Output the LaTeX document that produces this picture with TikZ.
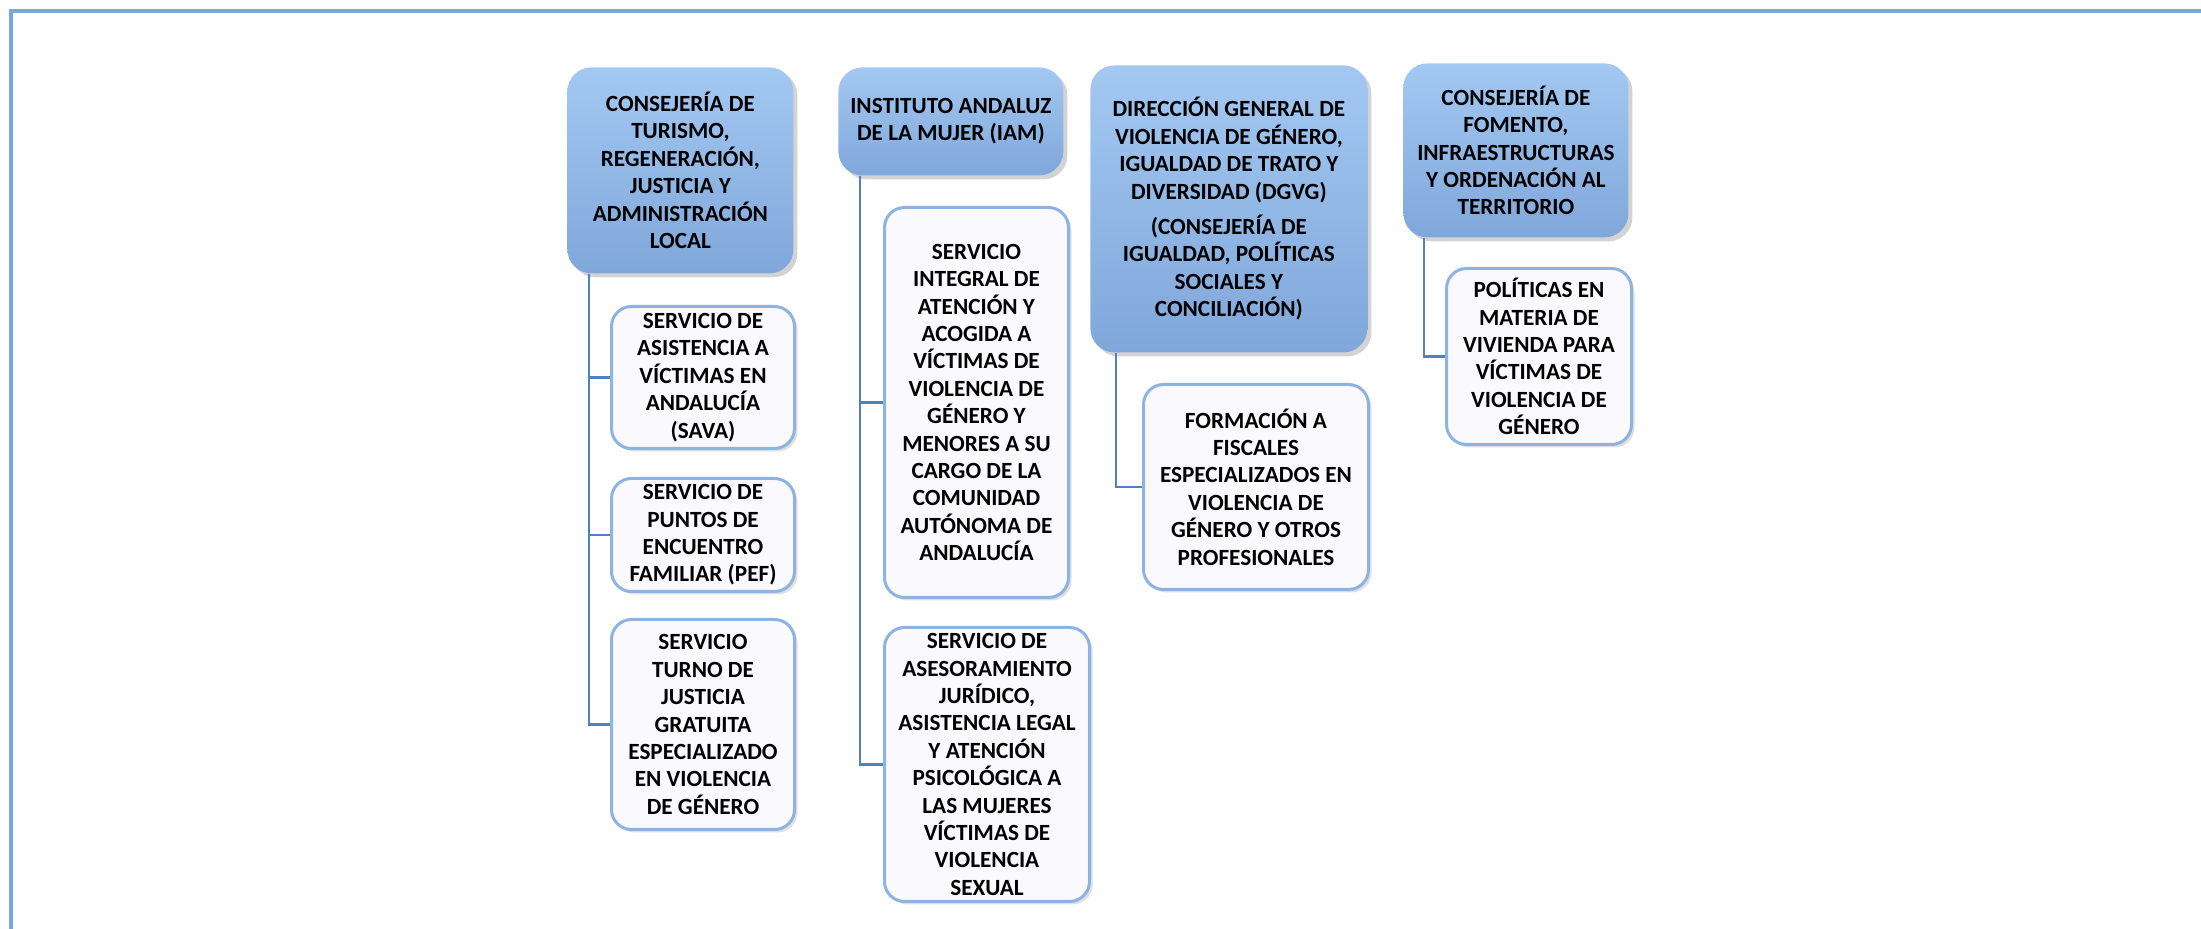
\documentclass[tikz,border=0pt]{standalone}
\usepackage{fontspec}
\setmainfont{Carlito}
\usetikzlibrary{shadows,calc}
\definecolor{framecol}{RGB}{118,168,222}
\definecolor{conncol}{RGB}{79,129,189}
\definecolor{boxedge}{RGB}{141,179,226}
\definecolor{ptop}{RGB}{163,200,242}
\definecolor{pbot}{RGB}{128,167,218}
\definecolor{cfill}{RGB}{250,250,254}
\tikzset{
  parentbox/.style={rectangle, rounded corners=12pt, top color=ptop, bottom color=pbot,
    draw=none, align=center, inner sep=3pt, anchor=north west,
    drop shadow={opacity=0.35, shadow xshift=2pt, shadow yshift=-2pt},
    font=\bfseries\fontsize{11.6pt}{13.7pt}\selectfont},
  childbox/.style={rectangle, rounded corners=10pt, fill=cfill, draw=boxedge, line width=1.5pt,
    align=center, inner sep=3pt, anchor=north west,
    drop shadow={opacity=0.25, shadow xshift=1.5pt, shadow yshift=-1.5pt},
    font=\bfseries\fontsize{11.6pt}{13.7pt}\selectfont},
  conn/.style={draw=conncol, line width=1.2pt},
  framestyle/.style={draw=framecol, line width=1.6pt}
}
\begin{document}
\begin{tikzpicture}[x=0.5pt,y=-0.5pt]
\useasboundingbox (0,0) rectangle (2201,929);
\draw[framestyle] (2201,11) -- (11,11) -- (11,929);

% Column 1
\node[parentbox, minimum width=113pt, minimum height=103pt] (p1) at (567,67)
  {CONSEJERÍA DE\\TURISMO,\\REGENERACIÓN,\\JUSTICIA Y\\ADMINISTRACIÓN\\LOCAL};
\node[childbox, minimum width=91.5pt, minimum height=71pt] (sava) at (610,305)
  {SERVICIO DE\\ASISTENCIA A\\VÍCTIMAS EN\\ANDALUCÍA\\(SAVA)};
\node[childbox, minimum width=91.5pt, minimum height=56.5pt] (pef) at (610,477)
  {SERVICIO DE\\PUNTOS DE\\ENCUENTRO\\FAMILIAR (PEF)};
\node[childbox, minimum width=91.5pt, minimum height=105pt] (turno) at (610,618)
  {SERVICIO\\TURNO DE\\JUSTICIA\\GRATUITA\\ESPECIALIZADO\\EN VIOLENCIA\\DE GÉNERO};

% Column 2
\node[parentbox, minimum width=112.5pt, minimum height=54pt] (iam) at (838,67)
  {INSTITUTO ANDALUZ\\DE LA MUJER (IAM)};
\node[childbox, minimum width=92pt, minimum height=195pt] (iam1) at (883,206)
  {SERVICIO\\INTEGRAL DE\\ATENCIÓN Y\\ACOGIDA A\\VÍCTIMAS DE\\VIOLENCIA DE\\GÉNERO Y\\MENORES A SU\\CARGO DE LA\\COMUNIDAD\\AUTÓNOMA DE\\ANDALUCÍA};
\node[childbox, minimum width=102.5pt, minimum height=134.5pt] (iam2) at (883,626)
  {SERVICIO DE\\ASESORAMIENTO\\JURÍDICO,\\ASISTENCIA LEGAL\\Y ATENCIÓN\\PSICOLÓGICA A\\LAS MUJERES\\VÍCTIMAS DE\\VIOLENCIA\\SEXUAL};

% Column 3
\node[parentbox, minimum width=138.5pt, minimum height=143.5pt] (dir) at (1090,65)
  {DIRECCIÓN GENERAL DE\\VIOLENCIA DE GÉNERO,\\IGUALDAD DE TRATO Y\\DIVERSIDAD (DGVG)\\[4pt](CONSEJERÍA DE\\IGUALDAD, POLÍTICAS\\SOCIALES Y\\CONCILIACIÓN)};
\node[childbox, minimum width=112.5pt, minimum height=102.5pt] (c3) at (1142,383)
  {FORMACIÓN A\\FISCALES\\ESPECIALIZADOS EN\\VIOLENCIA DE\\GÉNERO Y OTROS\\PROFESIONALES};

% Column 4
\node[parentbox, minimum width=112.5pt, minimum height=87pt] (p4) at (1403,63)
  {CONSEJERÍA DE\\FOMENTO,\\INFRAESTRUCTURAS\\Y ORDENACIÓN AL\\TERRITORIO};
\node[childbox, minimum width=92.5pt, minimum height=88pt] (c4) at (1445,267)
  {POLÍTICAS EN\\MATERIA DE\\VIVIENDA PARA\\VÍCTIMAS DE\\VIOLENCIA DE\\GÉNERO};

% Connectors
\draw[conn] (p1.south west) ++(22,0) coordinate (t1) |- (turno.west);
\draw[conn] (t1 |- sava.west) -- (sava.west);
\draw[conn] (t1 |- pef.west) -- (pef.west);

\draw[conn] (iam.south west) ++(22,0) coordinate (t2) |- (iam2.west);
\draw[conn] (t2 |- iam1.west) -- (iam1.west);

\draw[conn] (dir.south west) ++(26,0) coordinate (t3) |- (c3.west);

\draw[conn] (p4.south west) ++(21,0) coordinate (t4) |- (c4.west);
\end{tikzpicture}
\end{document}
